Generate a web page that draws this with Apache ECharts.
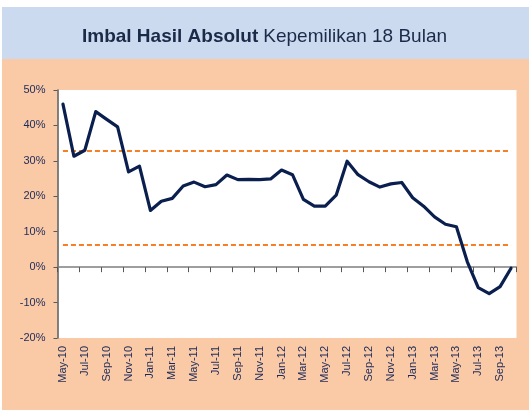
<!DOCTYPE html>
<html>
<head>
<meta charset="utf-8">
<script src="https://cdn.jsdelivr.net/npm/echarts@6/dist/echarts.min.js"></script>
<style>
  html, body { margin: 0; padding: 0; background: #fff; }
  #chart_div { width: 529px; height: 410px; }
</style>
</head>
<body>
<div id="chart_div"></div>
<script>
var months = ['May-10', 'Jun-10', 'Jul-10', 'Aug-10', 'Sep-10', 'Oct-10', 'Nov-10', 'Dec-10',
  'Jan-11', 'Feb-11', 'Mar-11', 'Apr-11', 'May-11', 'Jun-11', 'Jul-11', 'Aug-11', 'Sep-11', 'Oct-11', 'Nov-11', 'Dec-11',
  'Jan-12', 'Feb-12', 'Mar-12', 'Apr-12', 'May-12', 'Jun-12', 'Jul-12', 'Aug-12', 'Sep-12', 'Oct-12', 'Nov-12', 'Dec-12',
  'Jan-13', 'Feb-13', 'Mar-13', 'Apr-13', 'May-13', 'Jun-13', 'Jul-13', 'Aug-13', 'Sep-13', 'Oct-13'];

// imbal hasil absolut 18 bulan (%)
var returns18 = [46.0, 31.3, 33.0, 43.9, 41.7, 39.6, 26.9, 28.5,
  16.0, 18.6, 19.4, 22.9, 24.0, 22.7, 23.3, 26.0, 24.7, 24.8, 24.7, 24.9,
  27.4, 26.1, 19.1, 17.2, 17.2, 20.3, 29.9, 26.1, 24.1, 22.6, 23.5, 23.9,
  19.6, 17.2, 14.2, 12.1, 11.4, 1.5, -5.8, -7.5, -5.5, -0.3];

// garis putus-putus (batas atas / bawah)
var bandLines = [32.8, 6.4];

var yTicks = { min: -20, max: 50, step: 10 };

var myChart = echarts.init(document.getElementById('chart_div'));

var fontFam = '"Liberation Sans", Arial, sans-serif';

myChart.setOption({
  animation: false,
  backgroundColor: '#ffffff',
  graphic: [
    { type: 'rect', shape: { x: 2, y: 7, width: 527, height: 52 }, style: { fill: '#CCDAF0' }, z: -10 },
    { type: 'rect', shape: { x: 2, y: 59, width: 527, height: 351 }, style: { fill: '#FAC9A5' }, z: -10 }
  ],
  title: {
    text: '{b|Imbal Hasil Absolut} {r|Kepemilikan 18 Bulan}',
    left: 'center',
    top: 22,
    textStyle: {
      fontWeight: 'normal',
      rich: {
        b: { fontFamily: fontFam, fontSize: 19, fontWeight: 'bold', color: '#1B2A47' },
        r: { fontFamily: fontFam, fontSize: 19, fontWeight: 'normal', color: '#1B2A47' }
      }
    }
  },
  grid: {
    left: 57.5,
    right: 12.5,
    top: 90,
    bottom: 72,
    show: true,
    backgroundColor: '#ffffff',
    borderWidth: 0
  },
  xAxis: [{
    type: 'category',
    data: months,
    position: 'bottom',
    boundaryGap: true,
    axisLine: { show: false, onZero: false },
    axisTick: { show: false },
    axisLabel: {
      interval: 1,
      rotate: 90,
      margin: 8,
      fontFamily: fontFam,
      fontSize: 11,
      color: '#1B2A5A'
    }
  }, {
    type: 'category',
    data: months,
    position: 'top',
    boundaryGap: true,
    axisLine: { show: true, onZero: true, lineStyle: { color: '#7F7F7F', width: 1.5 } },
    axisTick: { show: true, interval: 1, inside: true, length: 5, lineStyle: { color: '#555555', width: 1 } },
    axisLabel: { show: false }
  }],
  yAxis: {
    type: 'value',
    min: yTicks.min,
    max: yTicks.max,
    interval: yTicks.step,
    axisLine: { show: true, lineStyle: { color: '#595959', width: 1.5 } },
    axisTick: { show: true, length: 4, lineStyle: { color: '#595959' } },
    splitLine: { show: false },
    axisLabel: {
      formatter: '{value}%',
      margin: 12,
      fontFamily: fontFam,
      fontSize: 11,
      color: '#1B2A5A'
    }
  },
  series: [{
    name: 'Imbal Hasil Absolut',
    type: 'line',
    xAxisIndex: 0,
    data: returns18,
    showSymbol: false,
    lineStyle: { color: '#0B1F4F', width: 3.2, join: 'round', cap: 'round' },
    z: 3,
    markLine: {
      silent: true,
      symbol: 'none',
      label: { show: false },
      lineStyle: { color: '#F58025', width: 2, type: [5, 3] },
      z: 2,
      data: bandLines.map(function (v) {
        return [
          { xAxis: months[0], yAxis: v },
          { xAxis: months[months.length - 1], yAxis: v }
        ];
      })
    }
  }]
});
</script>
</body>
</html>
